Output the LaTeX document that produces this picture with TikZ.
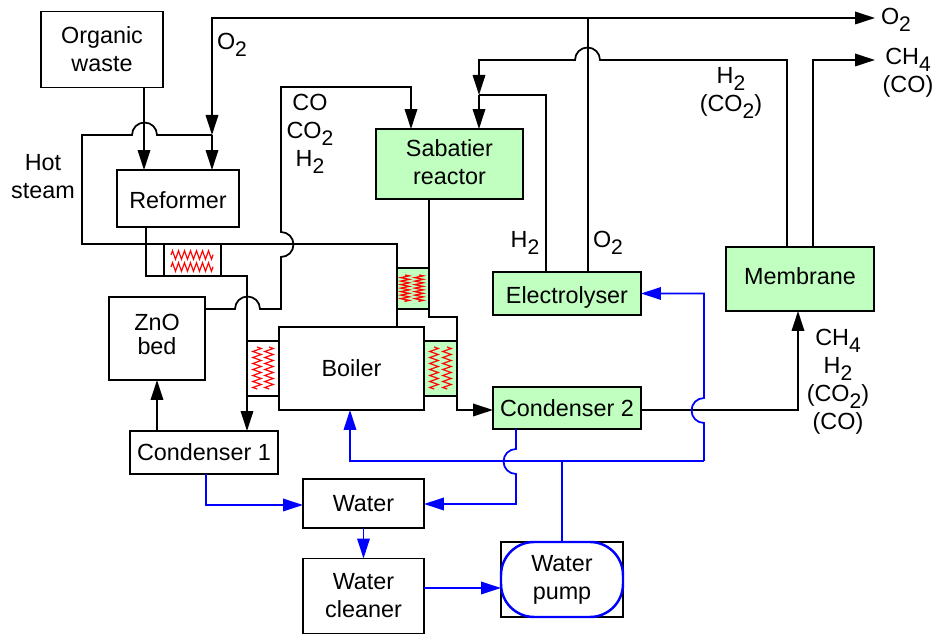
\documentclass[tikz,border=0pt]{standalone}
\usepackage{fontspec}
\setmainfont{Liberation Sans}
\usepackage{tikz}
\usetikzlibrary{arrows.meta,decorations.pathmorphing}

\definecolor{plantgreen}{RGB}{192,255,192}
\newcommand{\subs}[1]{\raisebox{-0.55ex}{\fontsize{12}{12}\selectfont #1}}

\tikzset{
	box/.style={draw,line width=1.1pt,inner sep=0pt,outer sep=0pt,align=center,font=\fontsize{13.3}{16}\selectfont},
	greenbox/.style={box,fill=plantgreen},
	lab/.style={inner sep=0pt,align=center,font=\fontsize{13.3}{16}\selectfont},
	pipe/.style={line width=1pt},
	arr/.style={pipe,-{Triangle[length=4mm,width=2.5mm]}},
	bluepipe/.style={pipe,blue,line width=1.2pt},
	bluearr/.style={arr,blue},
	coil/.style={red,line width=0.65pt,decorate,decoration={zigzag,segment length=0.12cm,amplitude=0.085cm}},
	densecoil/.style={red,line width=0.7pt,decorate,decoration={zigzag,segment length=0.07cm,amplitude=0.085cm}},
}

\begin{document}
\begin{tikzpicture}[x=0.02cm,y=0.02cm]
	\useasboundingbox (0,0) rectangle (934,-634);

	\node[box,minimum width=2.44cm,minimum height=1.52cm] (organic)at(102,-49.5) {Organic\\waste};
	\node[box,minimum width=2.44cm,minimum height=1.14cm,text height=12pt] (reformer)at(178,-198.5) {Reformer};
	\node[box,minimum width=1.92cm,minimum height=1.66cm,text depth=4.5pt] (zno)at(157,-338.5) {ZnO\\[-2.3pt]bed};
	\node[box,minimum width=2.9cm,minimum height=1.66cm] (boiler)at(351.5,-368.5) {Boiler};
	\node[box,minimum width=2.96cm,minimum height=0.86cm] (cond1)at(204,-452.5) {Condenser 1};
	\node[box,minimum width=2.42cm,minimum height=0.98cm] (water)at(363.5,-503.5) {Water};
	\node[box,minimum width=2.42cm,minimum height=1.5cm] (cleaner)at(363.5,-596) {Water\\cleaner};
	\node[box,minimum width=2.44cm,minimum height=1.5cm] (pump)at(562,-579.5) {};
	\node[box,draw=blue,line width=1.4pt,rounded corners=0.66cm,minimum width=2.44cm,minimum height=1.5cm] (pumpin)at(562,-579.5) {Water\\pump};
	\node[greenbox,minimum width=2.94cm,minimum height=1.4cm,text depth=2pt] (sabatier)at(449.5,-164) {Sabatier\\reactor};
	\node[greenbox,minimum width=2.96cm,minimum height=0.86cm,text height=11pt,text depth=0pt] (elec)at(567,-293.5) {Electrolyser};
	\node[greenbox,minimum width=2.96cm,minimum height=0.84cm] (cond2)at(567,-408) {Condenser 2};
	\node[greenbox,minimum width=2.96cm,minimum height=1.28cm,text depth=3.4pt] (membrane)at(800,-279) {Membrane};

	\node[box,minimum width=1.14cm,minimum height=0.64cm] (hxtop)at(192.5,-260) {};
	\node[greenbox,minimum width=0.64cm,minimum height=0.82cm] (hxsab)at(413,-288.5) {};
	\node[box,minimum width=0.64cm,minimum height=1.1cm] (hxleft)at(263,-368.5) {};
	\node[greenbox,minimum width=0.66cm,minimum height=1.1cm] (hxright)at(440.5,-368.5) {};

	\node[lab] (o2a)at(232,-45) {O\subs{2}};
	\node[lab] (gas)at(310,-133.5) {CO\\CO\subs{2}\\H\subs{2}};
	\node[lab] (steam)at(43,-177) {Hot\\steam};
	\node[lab] (h2co2)at(731,-93) {H\subs{2}\\(CO\subs{2})};
	\node[lab] (o2out)at(896,-20) {O\subs{2}};
	\node[lab] (ch4out)at(908,-73) {CH\subs{4}\\(CO)};
	\node[lab] (h2b)at(525,-243) {H\subs{2}};
	\node[lab] (o2b)at(608,-243) {O\subs{2}};
	\node[lab] (mix)at(838,-382) {CH\subs{4}\\H\subs{2}\\(CO\subs{2})\\(CO)};

	\coordinate (wastecol)at(144,-88);
	\coordinate (steamjn)at(212,-135);
	\coordinate (o2turn)at(212,-18);
	\coordinate (o2top)at(588,-18);
	\coordinate (o2end)at(875,-18);
	\coordinate (refcol)at(146,-276);
	\coordinate (hotcol)at(247,-276);
	\coordinate (gascol)at(281,-309);
	\coordinate (gastop)at(411,-87);
	\coordinate (h2col)at(479,-60);
	\coordinate (h2jn)at(479,-95);
	\coordinate (elecol)at(546,-95);
	\coordinate (memleft)at(787,-60);
	\coordinate (memright)at(813,-60);
	\coordinate (ch4end)at(875,-60);
	\coordinate (cond2in)at(457,-410);
	\coordinate (memcol)at(798,-410);
	\coordinate (bluecol)at(704,-461);
	\coordinate (boilcol)at(350,-461);
	\coordinate (wetcol)at(516,-504);
	\coordinate (cond1col)at(206,-505);
	\coordinate (cleanrow)at(424,-588);

	\draw[arr] (wastecol) -- (wastecol |- reformer.north);
	\draw[arr] (o2top) -- (o2end);
	\draw[pipe] (elec.north -| o2top) -- (o2top);
	\draw[arr] (o2top) -- (o2turn) -- (steamjn);
	\draw[arr] (steamjn) -- (steamjn |- reformer.north);

	\draw[pipe] (steamjn) -- (157,-135) arc[start angle=0,end angle=180,radius=0.25cm] -- (82,-135) -- (82,-244) -- (hxsab.north west |- 82,-244) -- (hxsab.north west);
	\draw[pipe] (hxsab.south west) -- (hxsab.south west |- boiler.north);

	\draw[pipe] (reformer.south -| refcol) -- (refcol) -- (hxtop.south west);
	\draw[arr] (hxtop.south east) -- (hotcol) -- (hotcol |- cond1.north);

	\draw[arr] (zno.east |- gascol) -- (235,-309) arc[start angle=180,end angle=0,radius=0.25cm] -- (gascol) -- (281,-257) arc[start angle=-90,end angle=90,radius=0.25cm] -- (281,-87) -- (gastop) -- (gastop |- sabatier.north);

	\draw[pipe] (sabatier.south -| hxsab.east) -- (hxsab.north east);
	\draw[pipe] (hxsab.south east) -- ++(0,-8) -| (hxright.north east);
	\draw[arr] (hxright.south east) -- (cond2in) -- (cond2in -| cond2.west);

	\draw[arr] (cond1.north -| zno) -- (zno.south);

	\draw[arr] (membrane.north -| memleft) -- (memleft) -- (600,-60) arc[start angle=0,end angle=180,radius=0.25cm] -- (h2col) -- (h2jn);
	\draw[arr] (h2jn) -- (h2jn |- sabatier.north);
	\draw[pipe] (elec.north -| elecol) -- (elecol) -- (h2jn);
	\draw[arr] (membrane.north -| memright) -- (memright) -- (ch4end);
	\draw[arr] (cond2.east |- memcol) -- (memcol) -- (memcol |- membrane.south);

	\draw[bluearr] (bluecol) -- (boilcol) -- (boilcol |- boiler.south);
	\draw[bluepipe] (pump.north) -- (pump.north |- bluecol);
	\draw[bluearr] (bluecol) -- (704,-423) arc[start angle=-90,end angle=-270,radius=0.25cm] -- (704,-293.5) -- (elec.east);
	\draw[bluearr] (cond2.south -| wetcol) -- (516,-449) arc[start angle=90,end angle=270,radius=0.25cm] -- (wetcol) -- (wetcol -| water.east);
	\draw[bluearr] (cond1.south -| cond1col) -- (cond1col) -- (cond1col -| water.west);
	\draw[bluearr] (water.south) -- (cleaner.north);
	\draw[bluearr] (cleanrow) -- (cleanrow -| pumpin.west);

	\draw[coil] (171,-255) -- (213,-255);
	\draw[coil] (171,-267) -- (213,-267);
	\draw[densecoil] (405,-275) -- (405,-302);
	\draw[densecoil] (419,-275) -- (419,-302);
	\draw[coil] (257,-347) -- (257,-389);
	\draw[coil] (269,-347) -- (269,-389);
	\draw[coil] (434,-347) -- (434,-389);
	\draw[coil] (447,-347) -- (447,-389);
\end{tikzpicture}
\end{document}
